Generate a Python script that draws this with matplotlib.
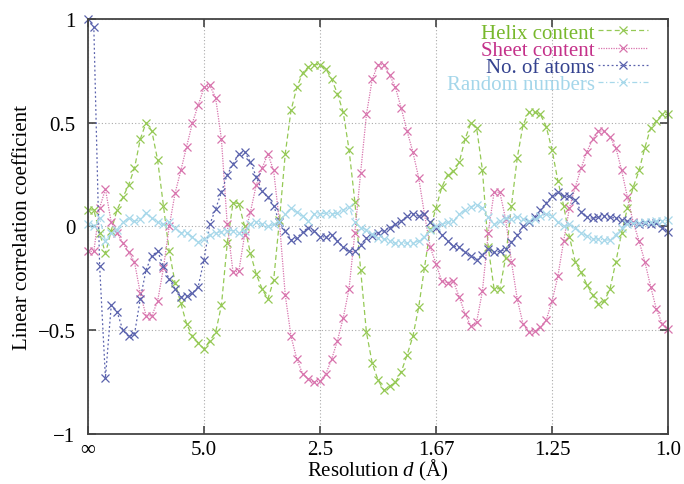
import numpy as np
import matplotlib
matplotlib.use("Agg")
import matplotlib.pyplot as plt

plt.rcParams['font.family'] = ['Liberation Serif', 'DejaVu Serif']
plt.rcParams['mathtext.fontset'] = 'custom'
plt.rcParams['mathtext.rm'] = 'Liberation Serif'
plt.rcParams['mathtext.it'] = 'Liberation Serif:italic'

# x = 1/d, sampled in steps of 0.01 from 0 (d = inf) to 1 (d = 1.0 A)
inv_d = np.linspace(0, 1, 101)

helix = [0.08, 0.08, -0.03, -0.13, -0.02, 0.08, 0.14, 0.20, 0.28, 0.42,
         0.50, 0.46, 0.32, 0.10, -0.12, -0.27, -0.37, -0.47, -0.53, -0.56,
         -0.59, -0.55, -0.51, -0.38, -0.08, 0.115, 0.11, 0.0, -0.13, -0.23,
         -0.30, -0.35, -0.26, 0.03, 0.35, 0.56, 0.67, 0.74, 0.77, 0.78,
         0.78, 0.76, 0.71, 0.64, 0.55, 0.37, 0.12, -0.21, -0.51, -0.66,
         -0.74, -0.79, -0.77, -0.75, -0.70, -0.62, -0.53, -0.39, -0.20, -0.01,
         0.09, 0.19, 0.25, 0.265, 0.31, 0.42, 0.50, 0.475, 0.27, -0.10,
         -0.30, -0.30, -0.15, 0.10, 0.33, 0.49, 0.55, 0.55, 0.54, 0.48,
         0.37, 0.22, 0.10, -0.05, -0.17, -0.22, -0.28, -0.33, -0.375, -0.36,
         -0.30, -0.17, -0.03, 0.09, 0.19, 0.27, 0.38, 0.475, 0.51, 0.54,
         0.54]

sheet = [-0.12, -0.12, 0.09, 0.18, 0.02, -0.03, -0.08, -0.125, -0.17, -0.32,
         -0.43, -0.43, -0.36, -0.20, 0.0, 0.16, 0.27, 0.385, 0.50, 0.585,
         0.67, 0.68, 0.62, 0.42, 0.01, -0.22, -0.215, -0.04, 0.07, 0.20,
         0.28, 0.35, 0.27, 0.02, -0.33, -0.53, -0.64, -0.71, -0.735, -0.75,
         -0.745, -0.71, -0.64, -0.55, -0.44, -0.30, -0.03, 0.26, 0.54, 0.71,
         0.78, 0.78, 0.73, 0.67, 0.57, 0.46, 0.36, 0.235, 0.06, -0.10,
         -0.18, -0.265, -0.27, -0.265, -0.34, -0.42, -0.48, -0.46, -0.31, -0.03,
         0.165, 0.165, 0.035, -0.17, -0.35, -0.47, -0.51, -0.505, -0.485, -0.45,
         -0.36, -0.24, -0.07, 0.09, 0.19, 0.28, 0.36, 0.42, 0.46, 0.46,
         0.43, 0.38, 0.27, 0.14, 0.02, -0.07, -0.17, -0.29, -0.40, -0.47,
         -0.495]

atoms = [1.0, 0.96, -0.19, -0.73, -0.38, -0.41, -0.50, -0.53, -0.52, -0.35,
         -0.21, -0.14, -0.12, -0.19, -0.255, -0.30, -0.34, -0.335, -0.32, -0.29,
         -0.16, 0.01, 0.085, 0.165, 0.25, 0.30, 0.35, 0.36, 0.31, 0.24,
         0.17, 0.14, 0.10, 0.02, -0.02, -0.065, -0.055, -0.025, -0.005, -0.02,
         -0.05, -0.05, -0.04, -0.07, -0.10, -0.12, -0.12, -0.09, -0.055, -0.045,
         -0.03, -0.02, -0.005, 0.01, 0.025, 0.05, 0.06, 0.05, 0.06, 0.02,
         -0.005, -0.04, -0.07, -0.095, -0.10, -0.125, -0.14, -0.16, -0.135, -0.11,
         -0.125, -0.12, -0.11, -0.075, -0.04, 0.0, 0.02, 0.045, 0.08, 0.115,
         0.145, 0.165, 0.145, 0.145, 0.13, 0.07, 0.045, 0.04, 0.045, 0.05,
         0.045, 0.04, 0.03, 0.025, 0.015, 0.01, 0.015, 0.01, 0.015, -0.005,
         -0.025]

random_nums = [0.01, 0.0, 0.04, -0.07, -0.03, -0.015, 0.02, 0.04, 0.025, 0.035,
               0.065, 0.04, 0.02, 0.01, 0.02, -0.005, -0.03, -0.03, -0.05, -0.075,
               -0.06, -0.04, -0.03, -0.025, -0.02, -0.02, -0.03, -0.02, 0.01, 0.02,
               0.01, 0.0, 0.01, 0.02, 0.06, 0.09, 0.07, 0.05, 0.025, 0.06,
               0.06, 0.065, 0.06, 0.065, 0.08, 0.095, 0.02, -0.005, -0.015, -0.035,
               -0.055, -0.06, -0.07, -0.08, -0.08, -0.08, -0.08, -0.07, -0.05, -0.015,
               0.0, 0.01, 0.02, 0.025, 0.06, 0.08, 0.095, 0.105, 0.09, 0.045,
               0.01, 0.025, 0.04, 0.035, 0.045, 0.035, 0.025, 0.035, 0.05, 0.06,
               0.05, 0.02, 0.0, 0.01, -0.005, -0.03, -0.045, -0.06, -0.06, -0.065,
               -0.065, -0.04, -0.005, 0.01, 0.015, 0.015, 0.02, 0.02, 0.025, 0.025,
               0.03]

x_ticks = [0.0, 0.2, 0.4, 0.6, 0.8, 1.0]
x_ticklabels = ["\u221e", "5.0", "2.5", "1.67", "1.25", "1.0"]
y_ticks = [-1, -0.5, 0, 0.5, 1]
y_ticklabels = ["\u22121", "\u22120.5", "0", "0.5", "1"]

series = [
    ("Helix content", helix, "#95c955", "#78b82c", (0, (4, 2.5))),
    ("Sheet content", sheet, "#d873ad", "#c4318a", (0, (1, 1))),
    ("No. of atoms", atoms, "#5a62ad", "#34428f", (0, (1.5, 2))),
    ("Random numbers", random_nums, "#a7d8ea", "#a4d6ea", (0, (4, 2, 1, 2))),
]

fig = plt.figure(figsize=(6.84, 4.85), dpi=100)
ax = fig.add_axes([0.1287, 0.1031, 0.848, 0.8557])

for label, vals, col, _, ls in series:
    ax.plot(inv_d, vals, color=col, linestyle=ls, linewidth=0.9,
            marker='x', markersize=5.5, markeredgewidth=0.9, label=label,
            clip_on=False)

ax.set_xlim(0, 1)
ax.set_ylim(-1, 1)
ax.set_xticks(x_ticks)
ax.set_xticklabels(x_ticklabels)
ax.set_yticks(y_ticks)
ax.set_yticklabels(y_ticklabels)
ax.tick_params(direction='in', length=6, width=1.2, color='#444444',
               top=True, right=True, labelsize=15)
ax.tick_params(axis='x', pad=4)
ax.tick_params(axis='y', pad=9)
ax.grid(True, color='#aaaaaa', linestyle=(0, (1, 2)), linewidth=0.8)
for sp in ax.spines.values():
    sp.set_linewidth(1.3)
    sp.set_color('#444444')

ax.set_xlabel("Resolution $\\mathit{d}$ (\u00c5)", fontsize=15, labelpad=-1)
ax.set_ylabel("Linear correlation coefficient", fontsize=15, labelpad=4)

leg = ax.legend(loc='upper right', bbox_to_anchor=(0.99, 1.025), frameon=False,
                markerfirst=False, fontsize=15, handlelength=2.4,
                handletextpad=0.15, labelspacing=-0.12, borderpad=0.2,
                labelcolor=[s[3] for s in series])

fig.savefig("out.png", dpi=100)
